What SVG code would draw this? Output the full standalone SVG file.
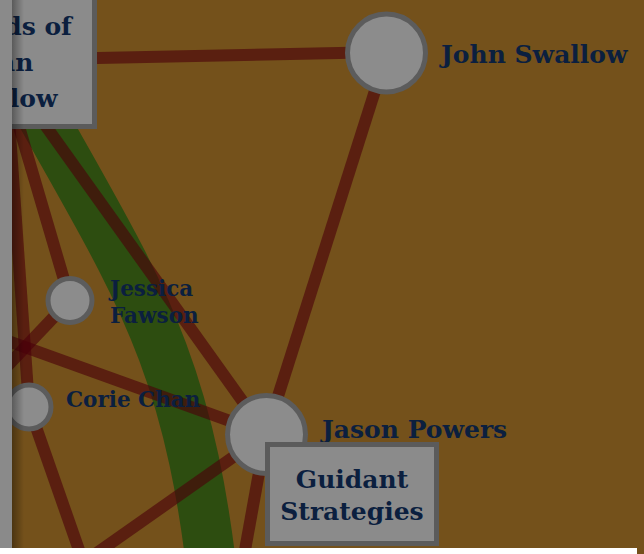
<svg xmlns="http://www.w3.org/2000/svg" width="644" height="554" viewBox="0 0 644 554">
<defs>
<style>
.edge{fill:none;stroke:#4a0009;stroke-opacity:0.62;stroke-width:12}
.flow{fill:none;stroke:#2d4d10;stroke-width:50}
.node circle{fill:#8c8c8c;stroke:#5c5c5c;stroke-width:5}
.node rect{fill:#8b8b8b;stroke:#5b5b5b;stroke-width:5}
.lbl{font-family:"DejaVu Serif",serif;fill:#0b1f3f;font-weight:bold}
.big{font-size:25px}
.small{font-size:21.5px}
</style>
<linearGradient id="shade" x1="0" x2="1" y1="0" y2="0">
<stop offset="0" stop-color="#000" stop-opacity="0.35"/>
<stop offset="1" stop-color="#000" stop-opacity="0"/>
</linearGradient>
</defs>
<rect x="0" y="0" width="644" height="554" fill="#74511b"/>
<g id="connectors">
<path class="flow" d="M22 80 C132 280 190 350 215 600"/>
<line class="edge" x1="0" y1="60" x2="387" y2="52"/>
<line class="edge" x1="387" y1="53" x2="266" y2="434"/>
<line class="edge" x1="0" y1="62" x2="266" y2="434"/>
<line class="edge" x1="0" y1="62" x2="70" y2="300"/>
<line class="edge" x1="5" y1="62" x2="29" y2="407"/>
<line class="edge" x1="70" y1="300" x2="-40" y2="416"/>
<line class="edge" x1="-50" y1="320" x2="266" y2="434"/>
<line class="edge" x1="29" y1="407" x2="100" y2="610"/>
<line class="edge" x1="266" y1="434" x2="30" y2="600"/>
<line class="edge" x1="266" y1="434" x2="236" y2="600"/>
</g>
<g id="friends-of-john-swallow" class="node">
<rect x="-80" y="-20" width="174.5" height="146.5"/>
<text class="lbl big" text-anchor="middle" x="1" y="35">Friends of</text>
<text class="lbl big" text-anchor="middle" x="1" y="71">John</text>
<text class="lbl big" text-anchor="middle" x="1" y="107">Swallow</text>
</g>
<g id="john-swallow" class="node">
<circle cx="386.5" cy="53" r="39"/>
<text class="lbl big" x="441" y="63">John Swallow</text>
</g>
<g id="jessica-fawson" class="node">
<circle cx="70" cy="300.5" r="22"/>
<text class="lbl small" x="110" y="296">Jessica</text>
<text class="lbl small" x="110" y="323">Fawson</text>
</g>
<g id="corie-chan" class="node">
<circle cx="29" cy="407" r="22"/>
<text class="lbl small" x="66" y="407">Corie Chan</text>
</g>
<g id="jason-powers" class="node">
<circle cx="266.5" cy="434.5" r="39"/>
<text class="lbl big" x="322" y="438">Jason Powers</text>
</g>
<g id="guidant-strategies" class="node">
<rect x="267.5" y="444.5" width="169" height="99"/>
<text class="lbl big" text-anchor="middle" x="352" y="488">Guidant</text>
<text class="lbl big" text-anchor="middle" x="352" y="520">Strategies</text>
</g>
<rect x="0" y="0" width="12" height="548" fill="#8a8a8a"/>
<rect x="12" y="0" width="12" height="548" fill="url(#shade)"/>
<rect x="0" y="548" width="637" height="6" fill="#ffffff"/>
</svg>
